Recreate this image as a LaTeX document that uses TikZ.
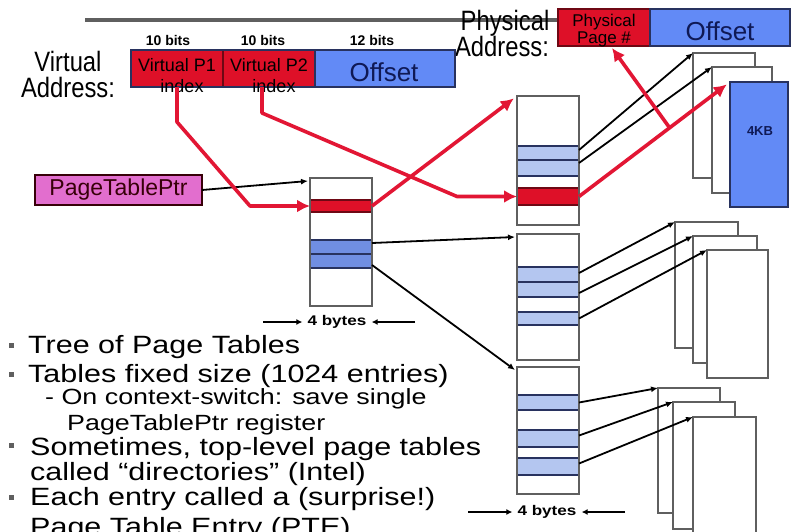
\documentclass[tikz,border=0pt]{standalone}
\usepackage{fontspec}
\setmainfont{Liberation Sans}
\newfontfamily\widef[FakeStretch=1.22]{Liberation Sans}
\newfontfamily\narrowf[FakeStretch=0.85]{Liberation Sans}
\usetikzlibrary{arrows.meta,calc}
\definecolor{cred}{RGB}{226,22,52}
\definecolor{vred}{RGB}{222,16,40}
\definecolor{dred}{RGB}{110,8,20}
\definecolor{oblue}{RGB}{98,138,246}
\definecolor{lblue}{RGB}{180,198,240}
\definecolor{mblue}{RGB}{112,142,226}
\definecolor{navyc}{RGB}{40,50,95}
\definecolor{pinkc}{RGB}{226,110,206}
\definecolor{tgray}{RGB}{95,95,95}
\definecolor{dtext}{RGB}{55,0,8}
\definecolor{otext}{RGB}{15,25,85}
\tikzset{
  box/.style={rectangle, inner sep=0pt, outer sep=0pt, anchor=north west},
  tbl/.style={box, fill=white, minimum width=62pt},
  tblline/.style={draw=tgray, line width=2.6pt},
  bent/.style={box, fill=lblue, minimum width=62pt,
    append after command={(\tikzlastnode.north west) edge[navyc, line width=2.4pt] (\tikzlastnode.north east)
      (\tikzlastnode.south west) edge[navyc, line width=2.4pt] (\tikzlastnode.south east)}},
  ment/.style={bent, fill=mblue},
  rent/.style={box, fill=vred, minimum width=62pt,
    append after command={(\tikzlastnode.north west) edge[dred, line width=2.4pt] (\tikzlastnode.north east)
      (\tikzlastnode.south west) edge[dred, line width=2.4pt] (\tikzlastnode.south east)}},
  pagebox/.style={box, draw=tgray, line width=2.6pt, fill=white},
  field/.style={box, fill=vred, draw=dred, line width=1.5pt, minimum height=37pt},
  ofield/.style={box, fill=oblue, draw=navyc, line width=1.8pt, minimum height=37pt},
  fieldtxt/.style={anchor=base, inner sep=0pt, text=black, font=\fontsize{18}{20}\selectfont},
  offtxt/.style={anchor=base, inner sep=0pt, text=otext, font=\fontsize{26}{28}\selectfont},
  bits/.style={anchor=base, inner sep=0pt, font=\bfseries\fontsize{14}{16}\selectfont},
  lbl/.style={anchor=base, inner sep=0pt, font=\narrowf\fontsize{28}{28}\selectfont},
  blk/.style={draw=black, line width=1.8pt, -{Latex[length=7pt,width=6pt]}},
  redc/.style={draw=cred, line width=3.6pt, line join=round, -{Latex[length=13pt,width=13pt]}},
  dimarr/.style={draw=black, line width=1.5pt, -{Latex[length=6pt,width=6pt]}},
  bytes/.style={inner sep=0pt, font=\widef\bfseries\fontsize{14}{16}\selectfont},
  bul/.style={rectangle, fill=tgray, inner sep=0pt, minimum size=5pt},
  btxt/.style={anchor=base west, inner sep=0pt, font=\widef\fontsize{25}{28}\selectfont},
  stxt/.style={anchor=base west, inner sep=0pt, font=\widef\fontsize{22}{24}\selectfont}
}
\begin{document}
\begin{tikzpicture}[x=1pt,y=-1pt]
\useasboundingbox (0,0) rectangle (792,531);
\fill[white] (0,0) rectangle (792,531);

% title rule
\draw[tgray, line width=4pt] (85,20) -- (558,20);

% address labels
\node[lbl] (va1) at (68,71) {Virtual};
\node[lbl] (va2) at (68,97) {Address:};
\node[lbl] (pa1) at (505,30) {Physical};
\node[lbl] (pa2) at (502,56) {Address:};

% bit widths
\node[bits] (lb1) at (168,45) {10 bits};
\node[bits] (lb2) at (263,45) {10 bits};
\node[bits] (lb3) at (372,45) {12 bits};

% virtual address
\node[field, minimum width=92pt] (p1) at (131,50) {};
\node[field, minimum width=92pt] (p2) at (223,50) {};
\node[ofield, minimum width=140pt] (vo) at (315,50) {};
\draw[navyc, line width=1.8pt] (p1.north west) rectangle (vo.south east);
\node[fieldtxt] (p1t) at (177,71) {Virtual P1};
\node[fieldtxt] (p1u) at (182,92) {index};
\node[fieldtxt] (p2t) at (269,71) {Virtual P2};
\node[fieldtxt] (p2u) at (274,92) {index};
\node[offtxt] (vot) at (384,81) {Offset};

% physical address
\node[field, minimum width=92pt] (pp) at (558,9) {};
\node[ofield, minimum width=140pt] (po) at (650,9) {};
\node[fieldtxt, font=\fontsize{17}{18}\selectfont] (ppt) at (604,26) {Physical};
\node[fieldtxt, font=\fontsize{17}{18}\selectfont] (ppu) at (604,43) {Page \#};
\node[offtxt] (pot) at (720,40) {Offset};

% page table pointer
\node[box, fill=pinkc, draw=dtext, line width=2pt, minimum width=167pt, minimum height=30pt,
      font=\fontsize{23}{25}\selectfont, text=dtext] (ptr) at (35,175) {PageTablePtr};

% first-level table
\node[tbl, minimum height=128pt] (T1) at (310,178) {};
\node[rent, minimum height=12pt] (R1) at (310,200) {};
\node[ment, minimum height=14pt] (T1b1) at (310,240) {};
\node[ment, minimum height=14pt] (T1b2) at (310,254) {};
\draw[tblline] (T1.north west) rectangle (T1.south east);

% second-level tables
\node[tbl, minimum height=129pt] (TA) at (517,96) {};
\node[bent, minimum height=14pt] (A1) at (517,146) {};
\node[bent, minimum height=16pt] (A2) at (517,160) {};
\node[rent, minimum height=17pt] (RA) at (517,188) {};
\draw[tblline] (TA.north west) rectangle (TA.south east);

\node[tbl, minimum height=126pt] (TB) at (517,234) {};
\node[bent, minimum height=15pt] (B1) at (517,267) {};
\node[bent, minimum height=15pt] (B2) at (517,282) {};
\node[bent, minimum height=13pt] (B3) at (517,312) {};
\draw[tblline] (TB.north west) rectangle (TB.south east);

\node[tbl, minimum height=127pt] (TC) at (517,367) {};
\node[bent, minimum height=15pt] (C1) at (517,395) {};
\node[bent, minimum height=17pt] (C2) at (517,430) {};
\node[bent, minimum height=17pt] (C3) at (517,458) {};
\draw[tblline] (TC.north west) rectangle (TC.south east);

% 4 bytes dimensions
\node[bytes] (fb1) at (337,322) {4 bytes};
\coordinate (d1) at (263,322);
\coordinate (d2) at (415,322);
\draw[dimarr] (d1) -- ([xshift=-5pt]fb1.west);
\draw[dimarr] (d2) -- ([xshift=5pt]fb1.east);
\node[bytes] (fb2) at (547,512) {4 bytes};
\coordinate (d3) at (468,512);
\coordinate (d4) at (625,512);
\draw[dimarr] (d3) -- ([xshift=-5pt]fb2.west);
\draw[dimarr] (d4) -- ([xshift=5pt]fb2.east);

% physical pages
\node[pagebox, minimum width=62pt, minimum height=125pt] (pg1a) at (693,53) {};
\node[pagebox, minimum width=60pt, minimum height=126pt] (pg1b) at (712,67) {};
\node[pagebox, fill=oblue, draw=navyc, minimum width=58pt, minimum height=125pt] (pg1c) at (730,82) {};
\node[font=\bfseries\fontsize{13}{15}\selectfont, text=otext, inner sep=0pt] (kb) at (760,131) {4KB};

\node[pagebox, minimum width=63pt, minimum height=126pt] (pg2a) at (675,222) {};
\node[pagebox, minimum width=64pt, minimum height=127pt] (pg2b) at (693,236) {};
\node[pagebox, minimum width=61pt, minimum height=128pt] (pg2c) at (707,250) {};

\node[pagebox, minimum width=62pt, minimum height=125pt] (pg3a) at (658,388) {};
\node[pagebox, minimum width=62pt, minimum height=127pt] (pg3b) at (673,402) {};
\node[pagebox, minimum width=63pt, minimum height=128pt] (pg3c) at (693,417) {};

% black connectors
\draw[blk] (ptr.east) -- ([xshift=-2pt,yshift=-3pt]T1.north west);
\draw[blk] ([yshift=-3pt]T1b1.north east) -- ([xshift=-2pt,yshift=-3pt]TB.north west);
\draw[blk] ([yshift=3pt]T1b2.south east) -- ([xshift=-2pt,yshift=-3pt]TC.north west);
\draw[blk] ([yshift=-4pt]A1.north east) -- (pg1a.north west);
\draw[blk] ([yshift=-3pt]A2.north east) -- (pg1b.north west);
\draw[blk] ([yshift=-6pt]B1.north east) -- (pg2a.north west);
\draw[blk] ([yshift=4pt]B2.south east) -- (pg2b.north west);
\draw[blk] (B3.east) -- (pg2c.north west);
\draw[blk] (C1.east) -- (pg3a.north west);
\draw[blk] ([yshift=3pt]C2.east) -- (pg3b.north west);
\draw[blk] ([yshift=3pt]C3.east) -- (pg3c.north west);

% red translation path
\coordinate (k1) at (177,122);
\coordinate (k2) at (250,206);
\coordinate (k3) at (262,113);
\coordinate (k4) at (457,196.5);
\draw[redc] (p1.south -| k1) -- (k1) -- (k2) -- (R1.west);
\draw[redc] (p2.south -| k3) -- (k3) -- (k4) -- (RA.west);
\draw[redc, shorten >=4pt] (R1.east) -- (TA.north west);
\draw[redc, shorten >=4pt] (RA.east) -- (pg1c.north west);
\path (RA.east) -- (pg1c.north west) coordinate[pos=0.6] (m);
\draw[redc] (m) -- ([xshift=8pt,yshift=-2pt]pp.south);

% bullet text
\node[bul] (b1) at (11,345) {};
\node[btxt] (t1) at (28,353) {Tree of Page Tables};
\node[bul] (b2) at (11,374) {};
\node[btxt] (t2) at (28,382) {Tables fixed size (1024 entries)};
\node[stxt] (t3) at (45,404) {-\ On context-switch: save single};
\node[stxt] (t4) at (67,430) {PageTablePtr register};
\node[bul] (b5) at (11,445) {};
\node[btxt] (t5) at (30,455) {Sometimes, top-level page tables};
\node[btxt] (t6) at (30,480) {called “directories” (Intel)};
\node[bul] (b7) at (11,497) {};
\node[btxt] (t7) at (30,505) {Each entry called a (surprise!)};
\node[btxt] (t8) at (30,535) {Page Table Entry (PTE).};
\end{tikzpicture}
\end{document}
